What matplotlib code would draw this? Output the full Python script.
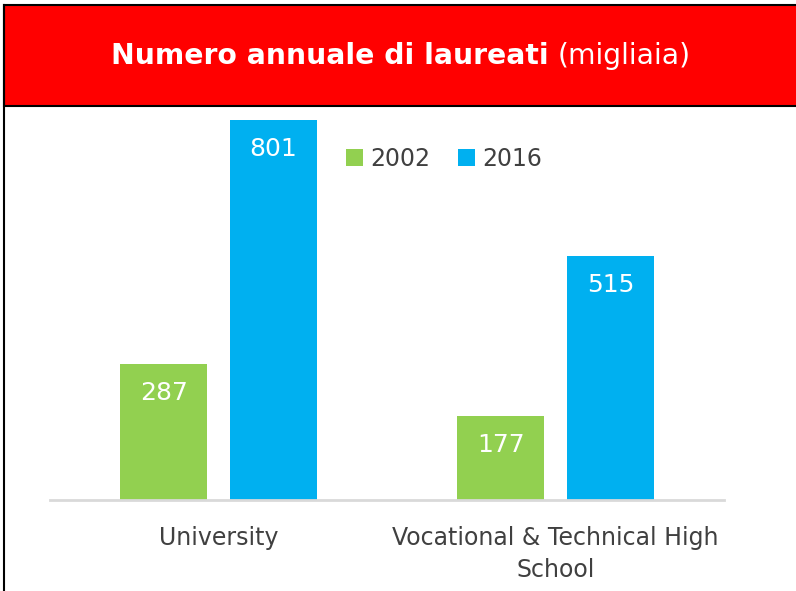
import matplotlib
matplotlib.use("Agg")
import matplotlib.pyplot as plt
import matplotlib.patches as patches
import numpy as np

categories = ["University", "Vocational & Technical High\nSchool"]
years = ["2002", "2016"]
values_2002 = [287, 177]
values_2016 = [801, 515]

GREEN = "#92D050"
BLUE = "#00B0F0"
RED = "#FF0000"
TEXT = "#404040"

fig = plt.figure(figsize=(7.96, 5.91), dpi=100, facecolor="white")

# header band + frame
fig.patches.append(patches.Rectangle((4 / 796, 1 - 106 / 591), 1, 101 / 591,
                                     transform=fig.transFigure, facecolor=RED,
                                     edgecolor="black", linewidth=1.5, zorder=0))
fig.add_artist(plt.Line2D([4 / 796, 4 / 796], [0, 1 - 5 / 591], transform=fig.transFigure,
                          color="black", linewidth=1.5))

# title: bold part + regular part, centred as a pair
ty = 1 - 56 / 591
t1 = fig.text(0, ty, "Numero annuale di laureati", color="white",
              fontsize=20.3, fontweight="bold", ha="left", va="center")
t2 = fig.text(0, ty, "(migliaia)", color="white", fontsize=20.3, ha="left", va="center")
fig.canvas.draw()
w1 = t1.get_window_extent().width
w2 = t2.get_window_extent().width
gap = 9
x0 = 401 - (w1 + gap + w2) / 2
t1.set_x(x0 / 796)
t2.set_x((x0 + w1 + gap) / 796)

ax = fig.add_axes([50 / 796, 1 - 500 / 591, 674 / 796, 392 / 591])
x = np.arange(len(categories))
w = 0.258
off = 0.163
b1 = ax.bar(x - off, values_2002, w, color=GREEN, label=years[0], zorder=2)
b2 = ax.bar(x + off, values_2016, w, color=BLUE, label=years[1], zorder=2)

for bars in (b1, b2):
    for r in bars:
        ax.annotate(f"{int(r.get_height())}", (r.get_x() + r.get_width() / 2, r.get_height()),
                    xytext=(0, -21), textcoords="offset points", ha="center", va="center",
                    color="white", fontsize=18)

ax.set_xlim(-0.5, 1.5)
ax.set_ylim(0, 826)
ax.set_yticks([])
ax.set_xticks(x)
ax.set_xticklabels(categories, fontsize=17, color=TEXT, linespacing=1.45)
ax.tick_params(axis="x", length=0, pad=18.5)
for s in ("top", "right", "left"):
    ax.spines[s].set_visible(False)
ax.spines["bottom"].set_color("#D9D9D9")
ax.spines["bottom"].set_linewidth(2)

ax.legend(loc="upper left", bbox_to_anchor=(0.408, 0.955), ncol=2, frameon=False,
          fontsize=17, handlelength=0.7, handleheight=0.7, handletextpad=0.3,
          columnspacing=1.2, labelcolor=TEXT)

fig.savefig("out.png", dpi=100, facecolor="white")
